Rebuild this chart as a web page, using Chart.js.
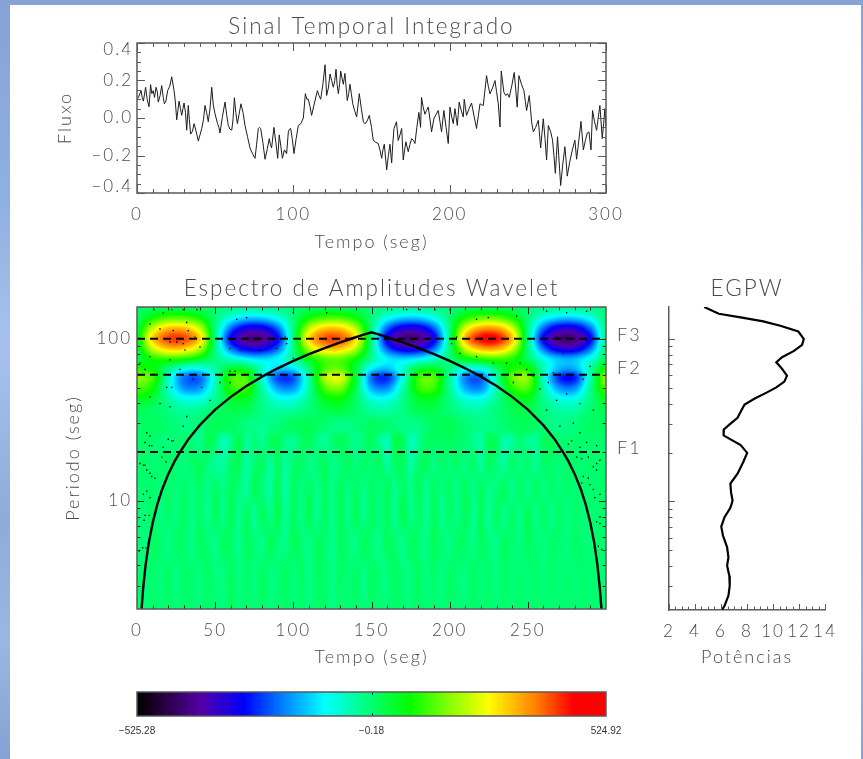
<!DOCTYPE html>
<html><head><meta charset="utf-8">
<script src="https://cdn.jsdelivr.net/npm/chart.js@4"></script>
<style>
html,body{margin:0;padding:0;width:863px;height:759px;overflow:hidden;
background:linear-gradient(180deg,#86a2d6 0,#8fb0e2 200px,#a6c2ec 340px,#8fabdc 520px,#9ab6e4 640px,#86a2d4 759px);}
#sheet{position:absolute;left:10px;top:5px;width:851px;height:754px;background:#fff;}
canvas{position:absolute;}
</style></head><body>
<div id="sheet"></div>
<canvas id="cSignal" width="600" height="247" style="left:50px;top:8px;width:600px;height:247px"></canvas>
<canvas id="cWave" width="600" height="405" style="left:50px;top:265px;width:600px;height:405px"></canvas>
<canvas id="cGws" width="200" height="405" style="left:650px;top:265px;width:200px;height:405px"></canvas>
<canvas id="cBar" width="600" height="70" style="left:60px;top:680px;width:600px;height:70px"></canvas>
<script>
// ---------- Signal panel ----------
const signalTimeA=[0,0.9,2.6,4.1,5.5,7.7,8.7,10.4,12.2,13.6,15.8,17.5,19.6,22.2,23.7,25.4,26.9,28.6,30.1,31.8,32.8,34.3,36.5,39.2,41.4,43.5,45.6,47.8,49.9,53.1,56.3,58.4,60.6,62.3,64.2,66.5,69.1,72.3,75.5,77.6,79.1,81.9,84.6,86.1,87.6,90,91,93,95.7,96.8,98.3,100.4,103.2,106.4,107.7,109.6,111.7,115.4,117.5,120.3,121.3,123.5,125.6,127.3,128.8,130.3,132,133,134.5,136.2,138,140.5,142.2,144.8,146.5,148.6,151.1,154.3,156.5,158.2,159.7,161.8,162.9,164.4,166,167.1,169.3,170.3,172,173.5,175.7,177.8,180.3,181.4,182,184.2,186.3,188.4,190,192.7,194.8,196.3,199.1,200.2,202.3,203.4,204.9,206.1,208.7,209.3,210.8,214,217.2,219.4,221.5,223.6,225.8,229,231.1,232.2,233,234.7,238.1,241.3,243.2,244.3,247.5,249.2,250.9,252.4,253.5,256.7,258.2,259.9,262,263.1,265.8,267.6,269,271,273.7,275.2,276.9,280.1,281.2,284,285.5,289.1,290.4,291.4,294,296.1,297.6,299.3,300];
const signalFluxA=[0.1,0.11,0.146,0.09,0.164,0.06,0.178,0.146,0.164,0.085,0.173,0.076,0.146,0.22,0.146,-0.01,0.09,0.014,0.08,-0.065,0.067,-0.086,-0.03,-0.123,-0.056,0.067,-0.02,0.164,0.023,-0.08,0.085,-0.04,-0.065,0.108,-0.03,0.076,-0.04,-0.16,-0.215,-0.056,-0.056,-0.22,-0.11,-0.16,-0.05,-0.215,-0.09,-0.215,-0.19,-0.074,-0.056,-0.19,-0.04,0,0.13,0.1,0.014,0.146,0.1,0.284,0.12,0.235,0.164,0.26,0.13,0.25,0.18,0.238,0.093,0.18,0.076,0.005,0.13,-0.02,-0.026,0.014,-0.118,-0.136,-0.215,-0.14,-0.277,-0.14,-0.24,-0.056,-0.02,-0.12,-0.056,-0.224,-0.127,-0.18,-0.11,-0.136,0.03,-0.05,0.11,0.02,0.058,-0.074,0,0.04,-0.074,0.04,-0.136,0.058,-0.03,0.05,-0.04,0.085,0.005,0.1,0.014,0.08,-0.056,0.076,0.067,0.226,0.129,0.2,0.076,-0.048,0.25,0.137,0.11,0.243,0.058,0.226,0.146,0.04,0.12,-0.02,-0.074,-0.012,-0.16,-0.004,-0.224,-0.04,-0.118,-0.295,-0.1,-0.36,-0.153,-0.31,-0.23,-0.118,-0.22,-0.018,-0.17,-0.074,-0.17,0.04,-0.066,0.067,-0.11,0.05,-0.05];
const signalTimeB=[3.3,6.5,9.5,11.2,13,14.8,16.8,18.5,21,24.5,27.8,29.4,31,33.5,35.5,37.8,40.3,42.5,44.5,46.7,48.8,51.5,52.4,54.7,57.3,59.5,61.4,63.2,65.3,67.8,70.7,73.9,76.5,78.3,80.5,83.2,85.3,88.8,92,94.3,97.5,99.3,101.8,104.8,108.6,110.7,113.5,116.4,118.9,122.4,124.5,126.5,128,129.6,131.2,135.4,137.1,139.2,141.4,143.5,145.7,147.5,150,152.7,155.4,157.3,160.8,163.6,168.2,171.2,174.6,176.8,179,183,185.2,187.3,191.4,193.8,197.7,201.2,205.5,207.4,212.4,215.6,218.3,220.5,222.6,224.7,227.4,230,235.9,237,239.7,242.3,245.9,248.4,251.7,255,257.4,261,264.5,266.7,268.3,270,272.3,274.5,278.5,282.6,286.8,288,292.7,295,298.5];
const signalFluxB=[0.11,0.1,0.13,0.11,0.14,0.12,0.11,0.09,0.17,0.09,0.05,0.05,0.03,-0.01,-0.07,-0.07,-0.09,-0.01,0.03,0.05,0.07,-0.03,-0.05,0.01,0.02,-0.06,-0.01,0.03,0.02,0.03,-0.1,-0.19,-0.14,-0.05,-0.13,-0.17,-0.14,-0.13,-0.15,-0.17,-0.06,-0.11,-0.11,-0.03,0.1,0.06,0.08,0.12,0.18,0.16,0.2,0.2,0.18,0.18,0.21,0.13,0.13,0.04,0.07,0.05,-0.03,-0.01,-0.05,-0.13,-0.17,-0.17,-0.2,-0.14,-0.09,-0.17,-0.14,-0.12,-0.05,0.06,0.04,0,0.02,-0.02,-0.05,0.01,0.02,0.04,0.05,0.01,0.01,0.07,0.15,0.17,0.16,0.14,0.12,0.13,0.17,0.15,0.18,0.09,0.05,-0.05,-0.08,-0.11,-0.07,-0.2,-0.2,-0.23,-0.25,-0.23,-0.17,-0.12,-0.12,-0.08,-0.02,0,-0.03];
const signalXLabels=[0,100,200,300];
const signalXMinor=[10,20,30,40,50,60,70,80,90,110,120,130,140,150,160,170,180,190,210,220,230,240,250,260,270,280,290];
const signalYLabels=[-0.4,-0.2,0,0.2,0.4];
const signalYMinor=[-0.35,-0.3,-0.25,-0.15,-0.1,-0.05,0.05,0.1,0.15,0.25,0.3,0.35];

// ---------- Wavelet panel ----------
const waveXLabels=[0,50,100,150,200,250];
const waveXMajor=[50,100,150,200,250];
const waveXMinor=[10,20,30,40,60,70,80,90,110,120,130,140,160,170,180,190,210,220,230,240,260,270,280,290];
const periodLabels=[100,10];
const periodMinor=[3,4,5,6,7,8,9,20,30,40,50,60,70,80,90];
const bandPeriods=[100,60,20];
const bandNames=['F3','F2','F1'];
const bandNameOffsets=[-4,-7,-4];
const coiTime=[2.9,4,5.5,7.5,10,13,16,20,24,27.5,33,40,50,60,70,80,90,100,110,120,130,137,145,150,155,163,170,180,190,200,210,220,230,240,250,260,267,272.5,276,280,284,287,290,292.5,294.5,296,297.1];
const coiPeriod=[2.15,2.92,4.02,5.48,7.3,9.5,11.7,14.6,17.5,20,24.1,29.2,36.5,43.8,51.1,58.4,65.7,73,80.3,87.6,94.9,100,105.9,109.5,105.9,100,94.9,87.6,80.3,73,65.7,58.4,51.1,43.8,36.5,29.2,24.1,20,17.5,14.6,11.7,9.5,7.3,5.48,4.02,2.92,2.15];
const dotTime=[10.9,16.8,22.2,29.6,38.2,63.8,70.1,100,121.3,8.3,14.7,23.2,31.8,32.8,21.1,25.4,29.6,37.1,8.3,21.1,30.7,40.3,59.5,65.9,78.7,89.3,95.7,94.7,100,1.9,5.1,10.4,27.5,36,41.4,46.7,59.5,62.7,53.1,59.5,22.2,19,8.3,14.7,21.1,29.6,31.8,8.3,6.2,20,23.2,1.9,5.1,9.4,
162.9,172.5,181,190.6,200.2,217.2,224.7,242.8,262,274.8,287.6,204.4,201.2,206.6,217.2,227.9,236.4,245,240.7,249.2,253.5,257.7,263.1,268.4,274.8,283.3,291.9,262,270.5,279.1,283.3,287.6,294,281.2,291.9,296.1,268.4,278,287.6,272.7,266.3,289.7,285.5,
5.1,7.9,22.2,16.8,15.8,18.6,4.1,6.2,8.3,9.4,11.5,6.2,4.1,8.3,5.1,7.9,4.5,3.6,5.8,1.5,
275.9,278,283.3,284.4,288.7,294,294,285.5,288.7,284.4,289.7,291.9,296.1,292.9,296.1,294,296.1,295.1,297.2];
const dotLogPeriod=[2.18,2.16,2.18,2.18,2.18,2.12,2.13,2.16,2.16,2.09,2.06,2.05,2.10,2.05,1.98,1.98,1.97,2.01,1.89,1.87,1.93,1.95,1.94,1.93,1.93,1.94,1.97,2.01,1.88,1.85,1.81,1.78,1.81,1.75,1.70,1.62,1.80,1.80,1.73,1.73,1.70,1.70,1.64,1.60,1.58,1.46,1.52,1.40,1.42,1.38,1.37,1.23,1.22,1.34,
2.18,2.18,2.18,2.18,2.18,2.12,2.13,2.14,2.17,2.16,2.17,2.01,1.97,1.91,1.89,1.85,1.85,1.85,1.73,1.81,1.77,1.69,1.73,1.62,1.66,1.60,1.56,1.56,1.46,1.48,1.42,1.36,1.34,1.27,1.21,1.25,2.01,1.96,1.99,1.91,1.79,1.83,1.75,
1.36,1.34,1.37,1.33,1.27,1.24,1.22,1.19,1.17,1.15,1.14,1.06,1.04,1.02,.91,.91,.88,.71,.71,.69,
1.35,1.37,1.33,1.26,1.27,1.23,1.19,1.15,1.14,1.11,1.10,1.07,1.04,1.02,.90,.87,.86,.72,.70];

// Amplitude read on a 10 s grid (long periods) and a 5 s grid (short periods)
const heatStepUpper=10, heatStepLower=5;
const heatPeriodsUpper=[157,135,115,100,87,75,65,58,50,42,35,28];
const heatUpper=[
[3,13,21,21,13,0,-13,-22,-22,-13,0,12,21,21,12,0,-14,-22,-22,-14,0,14,24,24,14,0,-13,-22,-22,-13,0],
[18,90,132,132,90,-3,-87,-134,-134,-87,-2,86,129,129,84,-3,-90,-137,-137,-90,-2,96,144,144,93,-3,-89,-137,-137,-87,-3],
[45,225,320,320,225,-8,-218,-320,-320,-218,-4,214,310,310,210,-8,-225,-325,-325,-225,-4,240,345,345,233,-8,-221,-325,-325,-218,-8],
[60,300,405,405,300,-10,-290,-405,-405,-290,-5,285,395,395,280,-10,-300,-415,-415,-300,-5,320,450,450,310,-10,-295,-415,-415,-290,-10],
[50,220,305,300,207,-9,-204,-300,-308,-218,-13,203,305,306,203,-15,-226,-315,-308,-210,-5,222,325,332,228,0,-214,-322,-323,-210,0],
[37,97,113,95,56,-10,-65,-107,-131,-107,-29,74,140,145,82,-28,-113,-134,-110,-66,-5,65,105,127,103,17,-89,-155,-156,-85,19],
[99,84,-9,-92,-103,-34,49,47,-64,-144,-127,-5,128,150,39,-117,-156,-69,41,59,-17,-90,-94,5,97,94,-52,-163,-168,-40,99],
[174,126,-54,-204,-214,-61,114,124,-76,-236,-230,-35,195,235,44,-211,-257,-87,113,133,-30,-193,-212,-32,146,170,-66,-257,-267,-46,180],
[136,88,-64,-184,-184,-48,104,120,-40,-176,-184,-40,136,168,24,-168,-192,-48,112,120,-24,-168,-192,-48,104,136,-40,-184,-192,-24,144],
[60,38,-28,-80,-80,-21,45,52,-18,-77,-80,-18,60,74,10,-74,-84,-21,49,52,-10,-74,-84,-21,45,60,-18,-80,-84,-10,63],
[20,10,-10,-25,-15,10,25,20,-15,-30,-20,0,25,30,5,-25,-30,-10,20,25,0,-25,-30,-5,20,25,-5,-30,-30,5,25],
[10,15,5,-15,-5,20,15,-10,-25,-5,20,25,0,-20,-5,15,5,-20,-15,15,25,0,-20,-10,15,20,-5,-20,-5,15,15]];
const heatPeriodsLower=[28,24,17,12,8,5.5,3.5,2.15];
const heatLower=[
[10,12,15,10,5,-5,-15,-10,-5,10,20,18,15,0,-10,-18,-25,-15,-5,8,20,22,25,12,0,-10,-20,-12,-5,5,15,10,5,-5,-20,-18,-15,0,15,20,25,12,0,-10,-20,-15,-10,2,15,18,20,8,-5,-12,-20,-12,-5,5,15,15,15],
[5,10,5,-5,-10,0,10,0,-25,25,10,-50,-20,30,-25,-5,-25,15,20,-15,-25,5,20,-10,-30,0,20,0,-25,0,15,-20,-50,25,20,-50,-30,10,15,10,20,5,0,-20,-35,20,15,-40,-30,5,-25,-25,15,15,5,0,5,5,5,5,5],
[5,5,0,5,10,0,-10,5,15,-5,-25,-30,5,20,-35,0,15,-30,15,-30,5,10,-15,-5,15,-15,-5,15,-10,10,-5,15,-30,10,15,-35,5,15,-15,10,-5,10,-15,10,-30,15,-10,-30,10,-10,5,-25,10,5,-5,5,5,0,5,5,5],
[5,0,5,-5,5,-5,5,-10,10,-15,10,-15,15,-5,-30,20,-5,-30,20,-35,15,-10,10,-15,10,-15,15,-10,10,-15,10,-10,15,-15,10,-15,15,-20,10,-10,10,-15,15,-15,10,-15,-5,15,-20,10,-15,10,-10,5,-5,5,0,5,0,5,5],
[5,-5,10,-10,5,-10,15,-15,10,-20,15,-15,20,-20,15,-25,20,-15,25,-25,15,-15,20,-20,10,-15,15,-15,20,-20,15,-10,15,-20,25,-15,10,-20,15,-20,10,-15,20,-20,15,-25,15,-20,10,-15,20,-15,10,-15,10,-10,5,-5,5,0,5],
[5,-10,10,5,-15,10,5,-15,15,0,-15,15,5,-20,15,0,-15,20,-5,-15,20,0,-15,15,5,-20,15,0,-15,20,-5,-15,15,5,-20,15,0,-15,20,0,-15,15,5,-15,15,-5,-15,15,0,-10,15,0,-10,10,0,-10,10,0,-5,5,0],
[5,-5,5,-5,10,-10,5,5,-10,10,-5,-10,15,-10,5,-10,15,-10,-5,15,-10,10,-15,10,5,-15,10,-5,10,-15,15,-5,-10,15,-5,-10,15,-10,5,-10,10,-5,-10,10,-5,5,-10,10,-5,5,-5,5,-5,5,-5,5,-5,5,0,5,0],
[5,0,5,0,5,-5,5,0,-5,5,0,-5,10,-5,5,-5,10,-5,0,10,-5,5,-10,5,5,-10,5,0,5,-10,10,0,-5,10,0,-5,10,-5,5,-5,5,0,-5,5,0,5,-5,5,0,5,0,5,0,5,0,5,0,5,0,5,0]];
const colorPositions=[0,0.035,0.134,0.229,0.31,0.40,0.49,0.58,0.67,0.75,0.85,0.93,1];
const colorValues=[[0,0,0],[25,0,35],[85,0,165],[0,0,255],[0,128,255],[0,255,255],[0,255,128],[0,255,0],[140,255,0],[255,255,0],[255,128,0],[255,0,0],[255,0,0]];

// ---------- Global wavelet panel ----------
const gwsPeriod=[157,142.6,135.5,128,120,111,100,91.8,84.3,77.1,71.8,66.5,59.4,54.6,50.3,46.7,43.1,39.5,35.6,32.7,29.7,27.7,25.5,24,22.2,19.9,17.5,14.8,12.9,11.4,10.1,9.14,8,7,6.17,5.22,4.53,4.03,3.49,3.03,2.63,2.28,2.15];
const gwsPower=[4.71,5.83,7.51,9.25,10.62,11.94,12.36,12.23,11.61,10.69,10.25,10.62,11.07,10.87,10.25,9.5,8.63,7.81,7.51,7.27,6.64,6.22,6.2,6.77,7.51,8.01,7.71,7.27,6.72,6.77,6.89,6.72,6.27,6.02,6.15,6.47,6.57,6.47,6.64,6.67,6.57,6.27,6.07];
const gwsXLabels=[2,4,6,8,10,12,14];
const gwsXMinor=[2.5,3,3.5,4.5,5,5.5,6.5,7,7.5,8.5,9,9.5,10.5,11,11.5,12.5,13,13.5];

// ---------- Colour bar ----------
const barMin=-525.28, barMid=-0.18, barMax=524.92;
const barLabels=[barMin,barMid,barMax];

// ---------- Styling ----------
const FONT='Lato', INK='#4a4a4a', AXIS='#5a5a5a';
const tickFont={family:FONT,size:17,weight:'300',lineHeight:0.72};
const titleFont={family:FONT,size:22.5,weight:'300',lineHeight:1};
const axisFont={family:FONT,size:18,weight:'300',lineHeight:1};
const minusFmt=v=>String(v).replace('-','\u2212');

function colorAt(v){
  const p=Math.max(0,Math.min(1,(v-barMin)/(barMax-barMin)));
  let i=0; while(i<colorPositions.length-2&&p>colorPositions[i+1])i++;
  const f=(p-colorPositions[i])/(colorPositions[i+1]-colorPositions[i]);
  const a=colorValues[i],b=colorValues[i+1];
  return [a[0]+(b[0]-a[0])*f,a[1]+(b[1]-a[1])*f,a[2]+(b[2]-a[2])*f];
}
function cr(a,b,c,d,f){return b+0.5*f*(c-a+f*(2*a-5*b+4*c-d+f*(3*(b-c)+d-a)));}
function sampleGrid(rows,periods,step,t,logP){
  const logs=periods.map(Math.log10);
  let r=0; if(logP>=logs[0]){r=0;}else if(logP<=logs[logs.length-1]){r=logs.length-1;}else{
    while(logP<logs[r+1])r++; r+=(logs[r]-logP)/(logs[r]-logs[r+1]);
  }
  const nR=rows.length,nC=rows[0].length;
  const c=Math.max(0,Math.min(nC-1,t/step));
  const c0=Math.floor(c),r0=Math.floor(r),fc=c-c0,fr=r-r0;
  const R=i=>rows[Math.max(0,Math.min(nR-1,i))], C=i=>Math.max(0,Math.min(nC-1,i));
  const col=row=>cr(row[C(c0-1)],row[C(c0)],row[C(c0+1)],row[C(c0+2)],fc);
  return cr(col(R(r0-1)),col(R(r0)),col(R(r0+1)),col(R(r0+2)),fr);
}
const heatPlugin={id:'heat',beforeDatasetsDraw(chart){
  const {ctx,chartArea:a,scales:{x,y}}=chart;
  const L=Math.round(a.left),T=Math.round(a.top),W=Math.round(a.right-a.left),H=Math.round(a.bottom-a.top);
  const off=document.createElement('canvas');off.width=W;off.height=H;
  const oc=off.getContext('2d'),img=oc.createImageData(W,H);
  const lo=Math.log10(28),hi=Math.log10(35);
  for(let j=0;j<H;j++){
    const logP=Math.log10(y.getValueForPixel(T+j+0.5));
    for(let i=0;i<W;i++){
      const t=x.getValueForPixel(L+i+0.5);
      let v;
      if(logP>=hi)v=sampleGrid(heatUpper,heatPeriodsUpper,heatStepUpper,t,logP);
      else if(logP<=lo)v=sampleGrid(heatLower,heatPeriodsLower,heatStepLower,t,logP);
      else{const w=(logP-lo)/(hi-lo);
        v=w*sampleGrid(heatUpper,heatPeriodsUpper,heatStepUpper,t,logP)+(1-w)*sampleGrid(heatLower,heatPeriodsLower,heatStepLower,t,logP);}
      const c=colorAt(v),k=4*(j*W+i);
      img.data[k]=c[0];img.data[k+1]=c[1];img.data[k+2]=c[2];img.data[k+3]=255;
    }
  }
  oc.putImageData(img,0,0);
  ctx.drawImage(off,L,T);
}};
const barPlugin={id:'colorbar',beforeDatasetsDraw(chart){
  const {ctx,chartArea:a,scales:{x}}=chart;
  const N=256;
  for(let i=0;i<N;i++){
    const v0=barMin+(barMax-barMin)*i/N, v1=barMin+(barMax-barMin)*(i+1)/N;
    const c=colorAt((v0+v1)/2);
    ctx.fillStyle=`rgb(${c[0]|0},${c[1]|0},${c[2]|0})`;
    const p0=Math.round(x.getPixelForValue(v0)),p1=Math.round(x.getPixelForValue(v1));
    ctx.fillRect(p0,a.top,p1-p0,a.bottom-a.top);
  }
}};
// Inward tick marks (IDL style), frame, and band names
const markPlugin={id:'marks',afterDatasetsDraw(chart,args,o){
  const {ctx,chartArea:a,scales:{x,y}}=chart;
  ctx.save();ctx.strokeStyle=o.tickColor||AXIS;ctx.lineWidth=1;
  const hx=(list,len)=>list.forEach(v=>{const p=Math.round(x.getPixelForValue(v))+0.5;
    ctx.beginPath();ctx.moveTo(p,a.bottom);ctx.lineTo(p,a.bottom-len);
    if(o.box){ctx.moveTo(p,a.top);ctx.lineTo(p,a.top+len);}ctx.stroke();});
  const hy=(list,len)=>list.forEach(v=>{const p=Math.round(y.getPixelForValue(v))+0.5;
    ctx.beginPath();ctx.moveTo(a.left,p);ctx.lineTo(a.left+len,p);
    if(o.box){ctx.moveTo(a.right,p);ctx.lineTo(a.right-len,p);}ctx.stroke();});
  hx(o.xMajor||[],o.majorLen);hx(o.xMinor||[],o.minorLen);
  hy(o.yMajor||[],o.majorLen);hy(o.yMinor||[],o.minorLen);
  if(o.box){ctx.strokeStyle=AXIS;ctx.lineWidth=1.5;ctx.strokeRect(a.left,a.top,a.right-a.left,a.bottom-a.top);}
  if(o.names){ctx.fillStyle=INK;ctx.font=`300 18px ${FONT}`;ctx.textAlign='left';ctx.textBaseline='middle';
    o.names.forEach((n,i)=>ctx.fillText(n,a.right+11,y.getPixelForValue(o.namePeriods[i])+o.nameOffsets[i]));}
  ctx.restore();
}};
const spacingPlugin={id:'spacing',
  beforeUpdate(c,a,o){c.ctx.letterSpacing=o.value||'0px';},
  beforeDraw(c,a,o){c.ctx.letterSpacing=o.value||'0px';}};
Chart.defaults.animation=false;
Chart.defaults.color=INK;
Chart.register(spacingPlugin,markPlugin);

function fixedX(h){return s=>{s.height=h;};}
function fixedY(w){return s=>{s.width=w;};}
function setTicks(list){return s=>{s.ticks=list.map(v=>({value:v}));};}
const noGrid={display:false,drawTicks:false};
const common={responsive:false,maintainAspectRatio:false,events:[]};

// Signal chart
const signalPoints=signalTimeA.map((t,i)=>({x:t,y:signalFluxA[i]}))
  .concat(signalTimeB.map((t,i)=>({x:t,y:signalFluxB[i]})))
  .sort((p,q)=>p.x-q.x);
new Chart(document.getElementById('cSignal'),{type:'line',
 data:{datasets:[{data:signalPoints,borderColor:'#1c1c1c',borderWidth:1,pointRadius:0,tension:0}]},
 options:{...common,layout:{padding:{left:0,right:44,top:0,bottom:0}},
  plugins:{legend:{display:false},spacing:{value:'2px'},
   title:{display:true,text:'Sinal Temporal Integrado',fullSize:false,font:titleFont,color:INK,padding:{top:7,bottom:5.5}},
   marks:{box:true,xMajor:signalXLabels,xMinor:signalXMinor,yMajor:signalYLabels,yMinor:signalYMinor,majorLen:8,minorLen:4}},
  scales:{
   x:{type:'linear',min:0,max:300,afterBuildTicks:setTicks(signalXLabels),afterFit:fixedX(62),
    grid:noGrid,border:{display:false},
    ticks:{font:{...tickFont,lineHeight:1},padding:13,autoSkip:false,maxRotation:0,color:INK},
    title:{display:true,text:'Tempo (seg)',font:axisFont,color:INK,padding:{top:0,bottom:4}}},
   y:{type:'linear',min:-0.4,max:0.4,afterBuildTicks:setTicks(signalYLabels),afterFit:fixedY(87),
    grid:noGrid,border:{display:false},
    ticks:{font:tickFont,padding:4,autoSkip:false,color:INK,
     callback:v=>{const s=minusFmt(v.toFixed(1));return v===0.4?['',s]:v===-0.4?[s,'']:s;}},
    title:{display:true,text:'Fluxo',font:axisFont,color:INK,padding:{top:6,bottom:0}}}
  }}});

// Wavelet chart
const lineOf=(xs,ys,extra)=>Object.assign({type:'line',data:xs.map((t,i)=>({x:t,y:ys[i]})),pointRadius:0,tension:0,fill:false},extra);
new Chart(document.getElementById('cWave'),{type:'line',plugins:[heatPlugin],
 data:{datasets:[
  lineOf(dotTime,dotLogPeriod.map(l=>Math.pow(10,l)),{showLine:false,pointRadius:0.95,pointStyle:'rect',pointBackgroundColor:'#000',pointBorderWidth:0}),
  ...bandPeriods.map(p=>lineOf([0,300],[p,p],{borderColor:'#000',borderWidth:2,borderDash:[8,5]})),
  lineOf(coiTime,coiPeriod,{borderColor:'#000',borderWidth:2.4})
 ]},
 options:{...common,layout:{padding:{left:0,right:44,top:0,bottom:0}},
  plugins:{legend:{display:false},spacing:{value:'2px'},
   title:{display:true,text:'Espectro de Amplitudes Wavelet',fullSize:false,font:titleFont,color:INK,padding:{top:12,bottom:7.5}},
   marks:{box:true,tickColor:'#2a2a2a',xMajor:waveXMajor,xMinor:waveXMinor,yMajor:periodLabels,yMinor:periodMinor,majorLen:7,minorLen:3.5,names:bandNames,namePeriods:bandPeriods,nameOffsets:bandNameOffsets}},
  scales:{
   x:{type:'linear',min:0,max:300,afterBuildTicks:setTicks(waveXLabels),afterFit:fixedX(61),
    grid:noGrid,border:{display:false},
    ticks:{font:{...tickFont,lineHeight:1},padding:13,autoSkip:false,maxRotation:0,color:INK},
    title:{display:true,text:'Tempo (seg)',font:axisFont,color:INK,padding:{top:0,bottom:4}}},
   y:{type:'logarithmic',min:2.15,max:157,afterBuildTicks:setTicks(periodLabels),afterFit:fixedY(87),
    grid:noGrid,border:{display:false},
    ticks:{font:tickFont,padding:5,autoSkip:false,color:INK,callback:v=>String(v)},
    title:{display:true,text:'Periodo (seg)',font:axisFont,color:INK,padding:{top:14,bottom:0}}}
  }}});

// Global wavelet chart
new Chart(document.getElementById('cGws'),{type:'line',
 data:{datasets:[{data:gwsPower.map((v,i)=>({x:v,y:gwsPeriod[i]})),borderColor:'#000',borderWidth:2.2,pointRadius:0,tension:0}]},
 options:{...common,layout:{padding:{left:0,right:23,top:0,bottom:0}},
  plugins:{legend:{display:false},spacing:{value:'2px'},
   title:{display:true,text:'EGPW',fullSize:false,font:titleFont,color:INK,padding:{top:12,bottom:7.5}},
   marks:{box:false,xMajor:gwsXLabels,xMinor:gwsXMinor,yMajor:periodLabels,yMinor:periodMinor,majorLen:6,minorLen:3.5}},
  scales:{
   x:{type:'linear',min:2,max:14,afterBuildTicks:setTicks(gwsXLabels),afterFit:fixedX(60),
    grid:noGrid,border:{display:true,color:AXIS,width:1.5},
    ticks:{font:{...tickFont,lineHeight:1},padding:13,autoSkip:false,maxRotation:0,color:INK},
    title:{display:true,text:'Pot\u00eancias',font:axisFont,color:INK,padding:{top:0,bottom:4}}},
   y:{type:'logarithmic',min:2.15,max:157,afterBuildTicks:setTicks(periodLabels),afterFit:fixedY(16),
    grid:noGrid,border:{display:true,color:AXIS,width:1.5},
    ticks:{display:false}}
  }}});

// Colour bar
new Chart(document.getElementById('cBar'),{type:'line',plugins:[barPlugin],
 data:{datasets:[{data:[]}]},
 options:{...common,layout:{padding:{left:0,right:54,top:12,bottom:0}},
  plugins:{legend:{display:false},
   marks:{box:true,tickColor:'#222',xMajor:[barMid],majorLen:3,minorLen:0}},
  scales:{
   x:{type:'linear',min:barMin,max:barMax,afterBuildTicks:setTicks(barLabels),afterFit:fixedX(34),
    grid:noGrid,border:{display:false},
    ticks:{font:{family:'Liberation Sans',size:10},padding:9,autoSkip:false,maxRotation:0,color:'#333',
     callback:v=>minusFmt(v.toFixed(2))}},
   y:{type:'linear',min:0,max:1,afterFit:fixedY(77),display:true,grid:noGrid,border:{display:false},ticks:{display:false}}
  }}});
</script>
</body></html>
